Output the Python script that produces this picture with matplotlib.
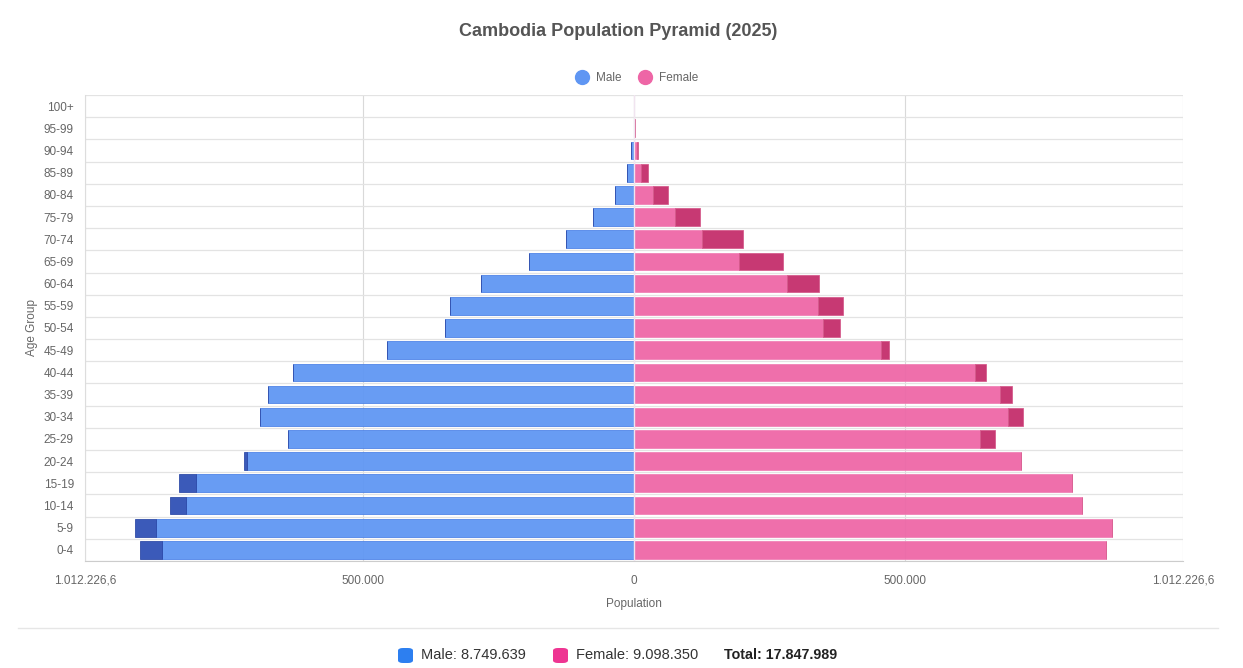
import matplotlib
matplotlib.use("Agg")
import matplotlib.pyplot as plt
from matplotlib.patches import FancyBboxPatch
from matplotlib.lines import Line2D

plt.rcParams["font.family"] = ["Liberation Sans", "DejaVu Sans"]

# Age groups, bottom to top
age_groups = ["0-4", "5-9", "10-14", "15-19", "20-24", "25-29", "30-34", "35-39",
              "40-44", "45-49", "50-54", "55-59", "60-64", "65-69", "70-74",
              "75-79", "80-84", "85-89", "90-94", "95-99", "100+"]
male = [911300, 919800, 856200, 839100, 719600, 638100, 690100, 674600,
        628000, 455800, 348700, 338700, 282800, 193600, 125200,
        74900, 35900, 12700, 5000, 700, 100]
female = [870200, 880900, 826300, 808200, 714400, 665400, 716800, 696300,
          648800, 471000, 379600, 385700, 340300, 274500, 201100,
          121000, 62100, 25800, 6800, 2600, 600]
x_limit = 1012226.6
x_ticks = [-x_limit, -500000, 0, 500000, x_limit]
x_tick_labels = ["1.012.226,6", "500.000", "0", "500.000", "1.012.226,6"]
male_total = "8.749.639"
female_total = "9.098.350"
grand_total = "17.847.989"

MALE = "#5f96f3"
MALE_DARK = "#2f50b5"
FEMALE = "#ee66a6"
FEMALE_DARK = "#c42c6a"
TXT = "#666666"

W, H = 1243, 668
fig = plt.figure(figsize=(W / 100, H / 100), dpi=100)
ax = fig.add_axes([85 / W, 1 - 561 / H, (1183 - 85) / W, (561 - 95) / H])

ys = list(range(len(age_groups)))
common = [min(m, f) for m, f in zip(male, female)]
male_extra = [m - c for m, c in zip(male, common)]
female_extra = [f - c for f, c in zip(female, common)]
bh = 0.8
a = 0.94

ax.barh(ys, [-c for c in common], height=bh, color=MALE, edgecolor="#4a80e6",
        linewidth=0.6, zorder=2, alpha=a)
ax.barh(ys, [-e for e in male_extra], left=[-c for c in common], height=bh,
        color=MALE_DARK, edgecolor="#2a47a5", linewidth=0.6, zorder=2, alpha=a)
ax.barh(ys, common, height=bh, color=FEMALE, edgecolor="#f07fb5",
        linewidth=0.6, zorder=2, alpha=a)
ax.barh(ys, female_extra, left=common, height=bh, color=FEMALE_DARK,
        edgecolor="#d45a8b", linewidth=0.6, zorder=2, alpha=a)

ax.set_xlim(-x_limit, x_limit)
ax.set_ylim(-0.5, len(age_groups) - 0.5)
ax.set_xticks(x_ticks)
ax.set_xticklabels(x_tick_labels)
ax.set_yticks(ys)
ax.set_yticklabels(age_groups)
ax.tick_params(axis="both", length=0, labelsize=8.5, colors=TXT)
ax.tick_params(axis="x", pad=10)
ax.tick_params(axis="y", pad=8)

# grid: vertical at ticks, horizontal between rows
for xv in x_ticks:
    ax.axvline(xv, color="#d9d9d9", linewidth=0.8, zorder=1)
for k in range(len(age_groups) + 1):
    ax.axhline(k - 0.5, color="#e3e3e3", linewidth=0.9, zorder=1)
ax.axvline(0, color="#f1e4f0", linewidth=1.0, zorder=3)

for side in ["top", "right"]:
    ax.spines[side].set_visible(False)
ax.spines["left"].set_color("#dddddd")
ax.spines["bottom"].set_color("#cccccc")

ax.set_xlabel("Population", fontsize=8.5, color=TXT, labelpad=8)
ax.set_ylabel("Age Group", fontsize=8.5, color=TXT, labelpad=4)

fig.text(618 / W, 1 - 32 / H, "Cambodia Population Pyramid (2025)", ha="center",
         va="center", fontsize=13, fontweight="bold", color="#555555")

handles = [Line2D([], [], marker="o", linestyle="", markersize=10, color=MALE),
           Line2D([], [], marker="o", linestyle="", markersize=10, color=FEMALE)]
fig.legend(handles, ["Male", "Female"], loc="center", bbox_to_anchor=(634 / W, 1 - 78 / H),
           ncol=2, frameon=False, fontsize=8.5, labelcolor=TXT, handletextpad=0.2,
           columnspacing=1.0)

# bottom summary
fig.add_artist(Line2D([18 / W, 1218 / W], [1 - 628 / H, 1 - 628 / H], color="#e6e6e6",
                      linewidth=1.0))
for x0, col in [(398, "#2d7ff0"), (553, "#ee3592")]:
    fig.add_artist(FancyBboxPatch((x0 / W, 1 - 663 / H), 15 / W, 15 / H,
                                  boxstyle="round,pad=0,rounding_size=0.004",
                                  transform=fig.transFigure, facecolor=col,
                                  edgecolor="none"))
fig.text(421 / W, 1 - 655 / H, f"Male: {male_total}", va="center", fontsize=10.5,
         color="#333333")
fig.text(576 / W, 1 - 655 / H, f"Female: {female_total}", va="center", fontsize=10.5,
         color="#333333")
fig.text(724 / W, 1 - 655 / H, f"Total: {grand_total}", va="center", fontsize=10.3,
         fontweight="bold", color="#222222")

fig.savefig("out.png", dpi=100)
